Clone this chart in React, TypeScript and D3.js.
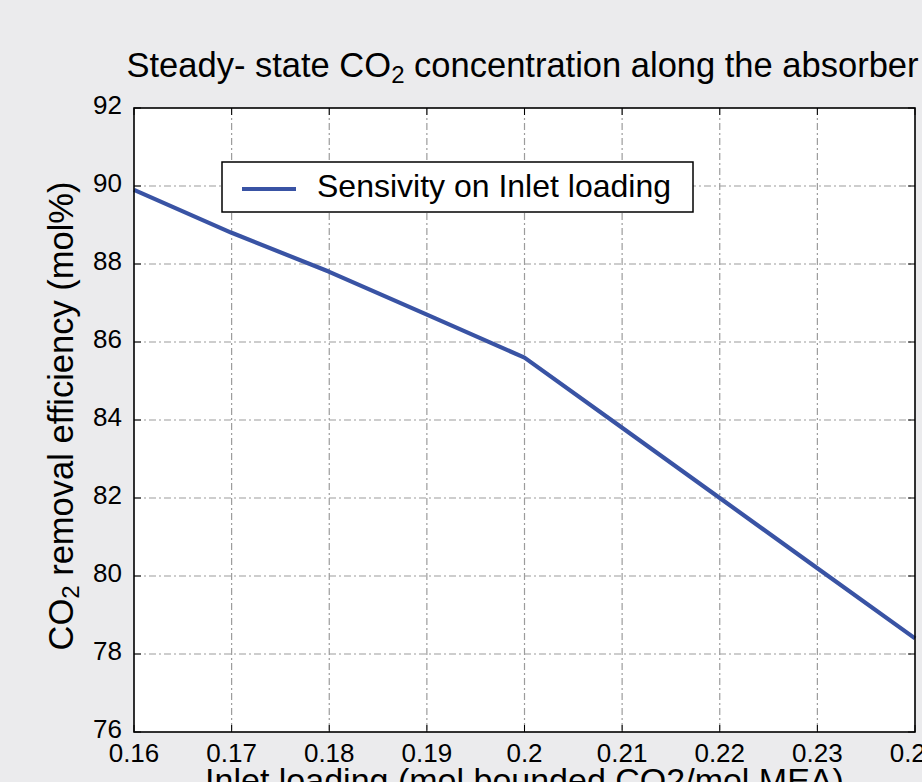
import React, { useRef, useEffect } from 'react';
import * as d3 from 'd3';

// inlet loading (mol CO2/mol MEA) vs CO2 removal efficiency (mol%)
const loading = [0.16, 0.17, 0.18, 0.19, 0.2, 0.21, 0.22, 0.23, 0.24];
const efficiency = [89.9, 88.8, 87.8, 86.7, 85.6, 83.8, 82.0, 80.2, 78.4];
const xTicks = [0.16, 0.17, 0.18, 0.19, 0.2, 0.21, 0.22, 0.23, 0.24];
const yTicks = [76, 78, 80, 82, 84, 86, 88, 90, 92];
const legendLabel = 'Sensivity on Inlet loading';

const App = () => {
  const ref = useRef<HTMLDivElement>(null);

  useEffect(() => {
    if (!ref.current) return;
    d3.select(ref.current).select('svg').remove();

    const width = 922;
    const height = 782;
    const left = 134, right = 915, top = 108, bottom = 732;
    const font = 'Liberation Sans, Arial, Helvetica, sans-serif';

    const svg = d3.select(ref.current)
      .append('svg')
      .attr('width', width)
      .attr('height', height)
      .style('position', 'absolute')
      .style('left', 0)
      .style('top', 0)
      .style('font-family', font);

    svg.append('rect').attr('width', width).attr('height', height).attr('fill', '#ebebed');

    const x = d3.scaleLinear().domain([0.16, 0.24]).range([left, right]);
    const y = d3.scaleLinear().domain([76, 92]).range([bottom, top]);

    svg.append('rect')
      .attr('x', left).attr('y', top)
      .attr('width', right - left).attr('height', bottom - top)
      .attr('fill', '#fff');

    // grid
    const grid = svg.append('g')
      .attr('stroke', '#9c9c9c')
      .attr('stroke-width', 1.2)
      .attr('stroke-dasharray', '7,3,2,3');
    grid.selectAll('.gx')
      .data(xTicks.slice(1, -1))
      .enter().append('line')
      .attr('x1', d => x(d)).attr('x2', d => x(d))
      .attr('y1', top).attr('y2', bottom);
    grid.selectAll('.gy')
      .data(yTicks.slice(1, -1))
      .enter().append('line')
      .attr('y1', d => y(d)).attr('y2', d => y(d))
      .attr('x1', left).attr('x2', right);

    // inward ticks on all sides
    const tk = 7;
    const ticks = svg.append('g').attr('stroke', '#000').attr('stroke-width', 1);
    xTicks.forEach(t => {
      ticks.append('line').attr('x1', x(t)).attr('x2', x(t)).attr('y1', bottom).attr('y2', bottom - tk);
      ticks.append('line').attr('x1', x(t)).attr('x2', x(t)).attr('y1', top).attr('y2', top + tk);
    });
    yTicks.forEach(t => {
      ticks.append('line').attr('y1', y(t)).attr('y2', y(t)).attr('x1', left).attr('x2', left + tk);
      ticks.append('line').attr('y1', y(t)).attr('y2', y(t)).attr('x1', right).attr('x2', right - tk);
    });

    // data line
    const pts = loading.map((l, i) => [l, efficiency[i]] as [number, number]);
    const line = d3.line<[number, number]>().x(d => x(d[0])).y(d => y(d[1]));
    svg.append('path')
      .datum(pts)
      .attr('d', line)
      .attr('fill', 'none')
      .attr('stroke', '#3953a4')
      .attr('stroke-width', 4.2)
      .attr('stroke-linejoin', 'round');

    // frame
    svg.append('rect')
      .attr('x', left).attr('y', top)
      .attr('width', right - left).attr('height', bottom - top)
      .attr('fill', 'none')
      .attr('stroke', '#000')
      .attr('stroke-width', 1.6);

    // tick labels
    svg.selectAll('.xl')
      .data(xTicks)
      .enter().append('text')
      .attr('x', d => x(d))
      .attr('y', bottom + 30)
      .attr('text-anchor', 'middle')
      .attr('font-size', 26)
      .text(d => d3.format('~g')(d));
    svg.selectAll('.yl')
      .data(yTicks)
      .enter().append('text')
      .attr('x', left - 12)
      .attr('y', d => y(d) + 6)
      .attr('text-anchor', 'end')
      .attr('font-size', 26)
      .text(d => d);

    // title
    const title = svg.append('text')
      .attr('x', (left + right) / 2 - 2)
      .attr('y', 77)
      .attr('text-anchor', 'middle')
      .attr('font-size', 34.5);
    title.append('tspan').text('Steady- state CO');
    title.append('tspan').attr('font-size', 24).attr('dy', 6).text('2');
    title.append('tspan').attr('dy', -6).text(' concentration along the absorber');

    // axis labels
    svg.append('text')
      .attr('x', (left + right) / 2)
      .attr('y', 792)
      .attr('text-anchor', 'middle')
      .attr('font-size', 34)
      .text('Inlet loading (mol bounded CO2/mol MEA)');

    const yl = svg.append('text')
      .attr('transform', `translate(73,${(top + bottom) / 2 - 4}) rotate(-90)`)
      .attr('text-anchor', 'middle')
      .attr('font-size', 34.5);
    yl.append('tspan').text('CO');
    yl.append('tspan').attr('font-size', 24).attr('dy', 6).text('2');
    yl.append('tspan').attr('dy', -6).text(' removal efficiency (mol%)');

    // legend
    const lg = svg.append('g');
    lg.append('rect')
      .attr('x', 222).attr('y', 162)
      .attr('width', 471).attr('height', 50)
      .attr('fill', '#fff')
      .attr('stroke', '#000')
      .attr('stroke-width', 1.5);
    lg.append('line')
      .attr('x1', 242).attr('x2', 296)
      .attr('y1', 189).attr('y2', 189)
      .attr('stroke', '#3953a4')
      .attr('stroke-width', 4.2);
    lg.append('text')
      .attr('x', 317).attr('y', 197)
      .attr('font-size', 32)
      .text(legendLabel);
  }, []);

  return <div className="chart-container" ref={ref}></div>;
};

export default App;
